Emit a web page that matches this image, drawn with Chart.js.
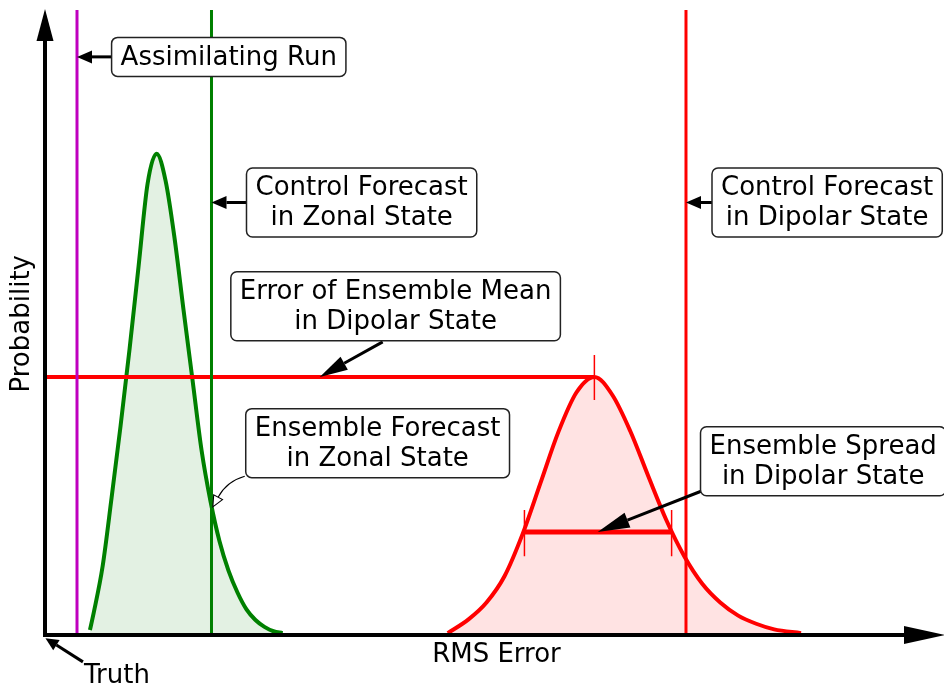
<!DOCTYPE html>
<html><head><meta charset="utf-8">
<script src="https://cdn.jsdelivr.net/npm/chart.js@4.4.1/dist/chart.umd.min.js"></script>
<style>html,body{margin:0;background:#fff}canvas{display:block}</style>
</head><body>
<canvas id="c" width="944" height="690"></canvas>
<script>
const zonalX=[0.50,0.541,0.641,0.741,0.841,0.941,1.041,1.141,1.241,1.341,1.441,1.541,1.641,1.741,1.841,1.941,2.041,2.141,2.241,2.341,2.441,2.541,2.644];
const zonalY=[0.008,0.035,0.110,0.220,0.335,0.458,0.590,0.722,0.770,0.727,0.635,0.520,0.408,0.296,0.214,0.150,0.103,0.068,0.041,0.024,0.013,0.006,0.003];
const dipolarX=[4.48,4.711,4.911,5.111,5.311,5.511,5.711,5.911,6.111,6.311,6.511,6.711,6.911,7.111,7.311,7.511,7.711,7.911,8.111,8.41];
const dipolarY=[0.003,0.025,0.052,0.094,0.161,0.243,0.325,0.388,0.413,0.384,0.326,0.254,0.184,0.126,0.082,0.052,0.031,0.018,0.009,0.003];
const assimRun=0.356, ctrlZonal=1.852, ctrlDipolar=7.13;
const meanErr=6.111, meanProb=0.413;
const spreadLo=5.333, spreadHi=6.97, spreadProb=0.165;
const peakTick=[0.376,0.448], spreadTick=[0.126,0.2];
const xLabel='RMS Error', yLabel='Probability';

const pts=(xs,ys)=>xs.map((x,i)=>({x,y:ys[i]}));
const vline=(x,y0,y1)=>[{x,y:y0},{x,y:y1}];
const hline=(x0,x1,y)=>[{x:x0,y},{x:x1,y}];
const FONT='26px "DejaVu Sans"';

// Beschriftungen: Textbox-Mitte (at), Pfeilstart (from), Pfeilspitze (to)
const notes=[
  {lines:['Assimilating Run'],at:[2.044,0.925],from:[0.744,0.925],to:[assimRun,0.925],head:15,hw:6.5},
  {lines:['Control Forecast','in Zonal State'],at:[3.522,0.692],from:[2.244,0.692],to:[ctrlZonal,0.692],head:15,hw:6.5},
  {lines:['Control Forecast','in Dipolar State'],at:[8.70,0.692],from:[7.422,0.692],to:[ctrlDipolar,0.692],head:15,hw:6.5},
  {lines:['Error of Ensemble Mean','in Dipolar State'],at:[3.90,0.526],from:[3.756,0.469],to:[3.056,meanProb],head:28,hw:7.5},
  {lines:['Ensemble Forecast','in Zonal State'],at:[3.70,0.307],from:[2.222,0.254],to:[1.867,0.205],open:true},
  {lines:['Ensemble Spread','in Dipolar State'],at:[8.656,0.278],from:[7.333,0.232],to:[6.148,spreadProb],head:32,hw:8},
  {lines:['Truth'],at:[0.80,-0.064],from:[0.422,-0.043],to:[0.005,-0.005],head:13,hw:6,nobox:true}
];

function solidArrow(ctx,x0,y0,x1,y1,head,hw){
  const a=Math.atan2(y1-y0,x1-x0),bx=x1-head*Math.cos(a),by=y1-head*Math.sin(a);
  ctx.strokeStyle='#000';ctx.fillStyle='#000';ctx.lineWidth=3;
  ctx.beginPath();ctx.moveTo(x0,y0);ctx.lineTo(bx,by);ctx.stroke();
  ctx.beginPath();ctx.moveTo(x1,y1);
  ctx.lineTo(bx+hw*Math.sin(a),by-hw*Math.cos(a));
  ctx.lineTo(bx-hw*Math.sin(a),by+hw*Math.cos(a));
  ctx.closePath();ctx.fill();
}

const sketchPlugin={id:'sketch',
  afterDatasetsDraw(chart){
    const ctx=chart.ctx,a=chart.chartArea,sx=chart.scales.x,sy=chart.scales.y;
    const X=v=>sx.getPixelForValue(v),Y=v=>sy.getPixelForValue(v);
    ctx.save();
    // Achsen mit Pfeilspitzen
    ctx.strokeStyle='#000';ctx.fillStyle='#000';ctx.lineWidth=4;ctx.lineCap='butt';
    ctx.beginPath();ctx.moveTo(a.left,a.bottom+2);ctx.lineTo(a.left,a.top+28);ctx.stroke();
    ctx.beginPath();ctx.moveTo(a.left-2,a.bottom);ctx.lineTo(a.right-38,a.bottom);ctx.stroke();
    ctx.beginPath();ctx.moveTo(a.left,a.top-1);ctx.lineTo(a.left-8.5,a.top+31);ctx.lineTo(a.left+8.5,a.top+31);ctx.closePath();ctx.fill();
    ctx.beginPath();ctx.moveTo(a.right+1,a.bottom);ctx.lineTo(a.right-40,a.bottom-9);ctx.lineTo(a.right-40,a.bottom+9);ctx.closePath();ctx.fill();
    // Achsentitel
    ctx.font=FONT;ctx.textAlign='center';ctx.textBaseline='middle';
    ctx.fillText(xLabel,X(5.022),Y(-0.032));
    ctx.save();ctx.translate(X(-0.256),Y(0.498));ctx.rotate(-Math.PI/2);ctx.fillText(yLabel,0,0);ctx.restore();
    // Annotationen
    notes.forEach(n=>{
      const fx=X(n.from[0]),fy=Y(n.from[1]),tx=X(n.to[0]),ty=Y(n.to[1]);
      if(n.open){
        const cx=fx-18,cy=fy+5;
        const a2=Math.atan2(ty-cy,tx-cx),bx=tx-11*Math.cos(a2),by=ty-11*Math.sin(a2);
        ctx.strokeStyle='#000';ctx.lineWidth=1.1;
        ctx.beginPath();ctx.moveTo(fx,fy);ctx.quadraticCurveTo(cx,cy,bx,by);ctx.stroke();
        ctx.beginPath();ctx.moveTo(tx,ty);
        ctx.lineTo(bx+5*Math.sin(a2),by-5*Math.cos(a2));
        ctx.lineTo(bx-5*Math.sin(a2),by+5*Math.cos(a2));
        ctx.closePath();ctx.fillStyle='#fff';ctx.fill();ctx.stroke();
      }else solidArrow(ctx,fx,fy,tx,ty,n.head,n.hw);
      const cx=X(n.at[0]),cy=Y(n.at[1]);
      ctx.font=FONT;
      const w=Math.max(...n.lines.map(l=>ctx.measureText(l).width))+18,h=n.lines.length*30+9;
      if(!n.nobox){
        ctx.beginPath();ctx.roundRect(cx-w/2,cy-h/2,w,h,6);
        ctx.fillStyle='#fff';ctx.fill();ctx.strokeStyle='#222';ctx.lineWidth=1.5;ctx.stroke();
      }
      ctx.fillStyle='#000';ctx.textAlign='center';ctx.textBaseline='middle';
      n.lines.forEach((l,i)=>ctx.fillText(l,cx,cy+(i-(n.lines.length-1)/2)*30+1));
    });
    ctx.restore();
  }};

const line=(data,color,width,order,extra)=>Object.assign({data,borderColor:color,borderWidth:width,showLine:true,pointRadius:0,fill:false,order},extra||{});

new Chart(document.getElementById('c'),{type:'scatter',
  data:{datasets:[
    line(vline(assimRun,0,1),'#bf00bf',3,0),
    line(vline(ctrlZonal,0,1),'#008000',3,0),
    line(vline(ctrlDipolar,0,1),'#ff0000',3,0),
    line(hline(0,meanErr,meanProb),'#ff0000',4,1),
    line(hline(spreadLo,spreadHi,spreadProb),'#ff0000',5,1),
    line(vline(meanErr,peakTick[0],peakTick[1]),'#ff0000',1.5,1),
    line(vline(spreadLo,spreadTick[0],spreadTick[1]),'#ff0000',1.5,1),
    line(vline(spreadHi,spreadTick[0],spreadTick[1]),'#ff0000',1.5,1),
    line(pts(zonalX,zonalY),'#008000',4,2,{fill:'origin',backgroundColor:'rgba(0,128,0,0.11)',cubicInterpolationMode:'monotone'}),
    line(pts(dipolarX,dipolarY),'#ff0000',4,2,{fill:'origin',backgroundColor:'rgba(255,0,0,0.11)',cubicInterpolationMode:'monotone'})
  ]},
  options:{responsive:false,animation:false,devicePixelRatio:1,
    layout:{padding:{left:45,right:0,top:10,bottom:55}},
    plugins:{legend:{display:false},tooltip:{enabled:false}},
    scales:{x:{type:'linear',min:0,max:10,display:false},y:{min:0,max:1,display:false}}},
  plugins:[sketchPlugin]});
</script>
</body></html>
